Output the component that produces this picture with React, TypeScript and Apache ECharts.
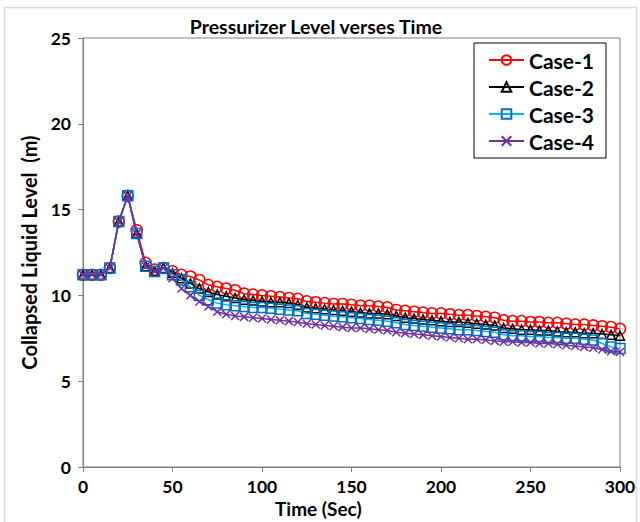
import React, { useEffect, useRef } from "react";
import * as echarts from "echarts";

const times = [0, 5, 10, 15, 20, 25, 30, 35, 40, 45, 50, 55, 60, 65, 70, 75, 80, 85, 90, 95, 100, 105, 110, 115, 120, 125, 130, 135, 140, 145, 150, 155, 160, 165, 170, 175, 180, 185, 190, 195, 200, 205, 210, 215, 220, 225, 230, 235, 240, 245, 250, 255, 260, 265, 270, 275, 280, 285, 290, 295, 300];

const case1 = [11.2, 11.2, 11.2, 11.6, 14.3, 15.8, 13.8, 11.9, 11.5, 11.6,
  11.4, 11.2, 11.1, 10.9, 10.6, 10.5, 10.4, 10.3, 10.1, 10.05, 10.0, 9.95, 9.9, 9.85, 9.8, 9.65, 9.6, 9.55, 9.5, 9.5, 9.45, 9.4, 9.4, 9.35, 9.3, 9.15, 9.1, 9.05, 9.0, 8.95, 8.95, 8.9, 8.85, 8.85, 8.8, 8.75, 8.7, 8.55, 8.5, 8.5, 8.45, 8.45, 8.4, 8.4, 8.35, 8.3, 8.3, 8.25, 8.2, 8.15, 8.05];

const case2 = [11.2, 11.2, 11.2, 11.6, 14.3, 15.8, 13.6, 11.7, 11.4, 11.6,
  11.3, 11.0, 10.7, 10.4, 10.2, 10.05, 9.95, 9.85, 9.75, 9.7, 9.65, 9.6, 9.6, 9.55, 9.45, 9.3, 9.25, 9.2, 9.15, 9.1, 9.05, 9.0, 8.95, 8.95, 8.9, 8.8, 8.7, 8.65, 8.6, 8.55, 8.5, 8.45, 8.45, 8.4, 8.35, 8.3, 8.25, 8.1, 8.05, 8.0, 8.0, 7.95, 7.95, 7.9, 7.85, 7.85, 7.8, 7.8, 7.75, 7.7, 7.65];

const case3 = [11.2, 11.2, 11.2, 11.6, 14.3, 15.8, 13.6, 11.7, 11.4, 11.6,
  11.2, 10.9, 10.5, 10.0, 9.75, 9.55, 9.45, 9.4, 9.35, 9.3, 9.3, 9.25, 9.2, 9.15, 9.1, 8.95, 8.9, 8.85, 8.8, 8.75, 8.7, 8.65, 8.6, 8.55, 8.5, 8.4, 8.3, 8.25, 8.2, 8.15, 8.1, 8.05, 8.0, 8.0, 7.95, 7.9, 7.85, 7.7, 7.65, 7.65, 7.6, 7.6, 7.55, 7.55, 7.5, 7.5, 7.45, 7.4, 7.2, 7.0, 6.9];

const case4 = [11.2, 11.2, 11.2, 11.6, 14.3, 15.8, 13.6, 11.7, 11.4, 11.6,
  11.0, 10.4, 10.0, 9.65, 9.35, 9.05, 8.9, 8.8, 8.75, 8.7, 8.65, 8.6, 8.55, 8.5, 8.45, 8.35, 8.3, 8.25, 8.2, 8.15, 8.1, 8.1, 8.05, 8.0, 7.95, 7.85, 7.8, 7.75, 7.7, 7.65, 7.6, 7.55, 7.5, 7.45, 7.45, 7.4, 7.35, 7.3, 7.3, 7.25, 7.25, 7.2, 7.2, 7.15, 7.1, 7.05, 7.0, 6.95, 6.85, 6.75, 6.7];

const seriesNames = ["Case-1", "Case-2", "Case-3", "Case-4"];
const xTicks = [0, 50, 100, 150, 200, 250, 300];

const FONT = "Lato, 'Open Sans', sans-serif";

export default function App() {
  const ref = useRef<HTMLDivElement>(null);
  useEffect(() => {
    if (!ref.current) return;
    const chart = echarts.init(ref.current, undefined, { renderer: "svg" });
    const pairs = (vals: number[]) => times.map((t, i) => [t, vals[i]]);
    const xSym = "path://M0,0L10,10M10,0L0,10";
    chart.setOption({
      animation: false,
      backgroundColor: "#ffffff",
      textStyle: { fontFamily: FONT },
      title: {
        text: "Pressurizer Level verses Time",
        left: 311,
        top: 11,
        textAlign: "center",
        textStyle: { fontFamily: FONT, fontSize: 19.5, fontWeight: "bold", color: "#000" },
      },
      legend: {
        orient: "vertical",
        left: 474,
        top: 43,
        padding: [6, 12, 6, 14],
        borderColor: "#000",
        borderWidth: 1,
        backgroundColor: "#fff",
        itemWidth: 35,
        itemHeight: 12,
        itemGap: 5,
        data: seriesNames,
        textStyle: { fontFamily: FONT, fontSize: 21, fontWeight: "bold", color: "#000", lineHeight: 22 },
      },
      grid: {
        left: 83,
        right: 20,
        top: 38,
        bottom: 55,
        show: true,
        borderColor: "#7f7f7f",
        borderWidth: 1,
        containLabel: false,
      },
      xAxis: {
        type: "value",
        min: 0,
        max: 300,
        interval: 50,
        axisLine: { show: true, lineStyle: { color: "#7f7f7f", width: 1 } },
        axisTick: { show: true, inside: false, length: 5, lineStyle: { color: "#7f7f7f" } },
        splitLine: { show: false },
        axisLabel: {
          margin: 10,
          fontFamily: FONT,
          fontSize: 17.5,
          fontWeight: "bold",
          color: "#000",
          formatter: (v: number) => (xTicks.includes(v) ? String(v) : ""),
        },
      },
      yAxis: {
        type: "value",
        min: 0,
        max: 25,
        interval: 5,
        name: "Collapsed Liquid Level  (m)",
        nameLocation: "middle",
        nameGap: 44,
        nameRotate: 90,
        nameTextStyle: { fontFamily: FONT, fontSize: 20, fontWeight: "bold", color: "#000" },
        axisLine: { show: true, lineStyle: { color: "#7f7f7f", width: 1 } },
        axisTick: { show: true, inside: false, length: 5, lineStyle: { color: "#7f7f7f" } },
        splitLine: { show: false },
        axisLabel: { margin: 12, fontFamily: FONT, fontSize: 17.5, fontWeight: "bold", color: "#000" },
      },
      graphic: [
        {
          type: "rect",
          shape: { x: 4.5, y: 7.5, width: 632, height: 520 },
          style: { fill: "none", stroke: "#d9d9d9", lineWidth: 1.5 },
          silent: true,
          z: -10,
        },
        {
          type: "text",
          left: 275,
          top: 499,
          style: { text: "Time (Sec)", fontFamily: FONT, fontSize: 19, fontWeight: "bold", fill: "#000" },
        },
      ],
      series: [
        {
          name: "Case-1",
          type: "line",
          data: pairs(case1),
          symbol: "circle",
          symbolSize: 11,
          lineStyle: { color: "#ff0000", width: 1.5 },
          itemStyle: { color: "rgba(255,255,255,0)", borderColor: "#ff0000", borderWidth: 1.5 },
          z: 2,
        },
        {
          name: "Case-2",
          type: "line",
          data: pairs(case2),
          symbol: "triangle",
          symbolSize: 9,
          lineStyle: { color: "#000000", width: 1.5 },
          itemStyle: { color: "rgba(255,255,255,0)", borderColor: "#000000", borderWidth: 1.5 },
          z: 3,
        },
        {
          name: "Case-3",
          type: "line",
          data: pairs(case3),
          symbol: "rect",
          symbolSize: 10,
          lineStyle: { color: "#00b0f0", width: 1.5 },
          itemStyle: { color: "rgba(255,255,255,0)", borderColor: "#0070c0", borderWidth: 1.5 },
          z: 4,
        },
        {
          name: "Case-4",
          type: "line",
          data: pairs(case4),
          symbol: xSym,
          symbolSize: 8,
          lineStyle: { color: "#7030a0", width: 1.5 },
          itemStyle: { color: "rgba(255,255,255,0)", borderColor: "#7030a0", borderWidth: 1.5 },
          z: 5,
        },
      ],
    });
    return () => chart.dispose();
  }, []);
  return (
    <div
      ref={ref}
      style={{ position: "fixed", left: 0, top: 0, width: 640, height: 522 }}
    />
  );
}
